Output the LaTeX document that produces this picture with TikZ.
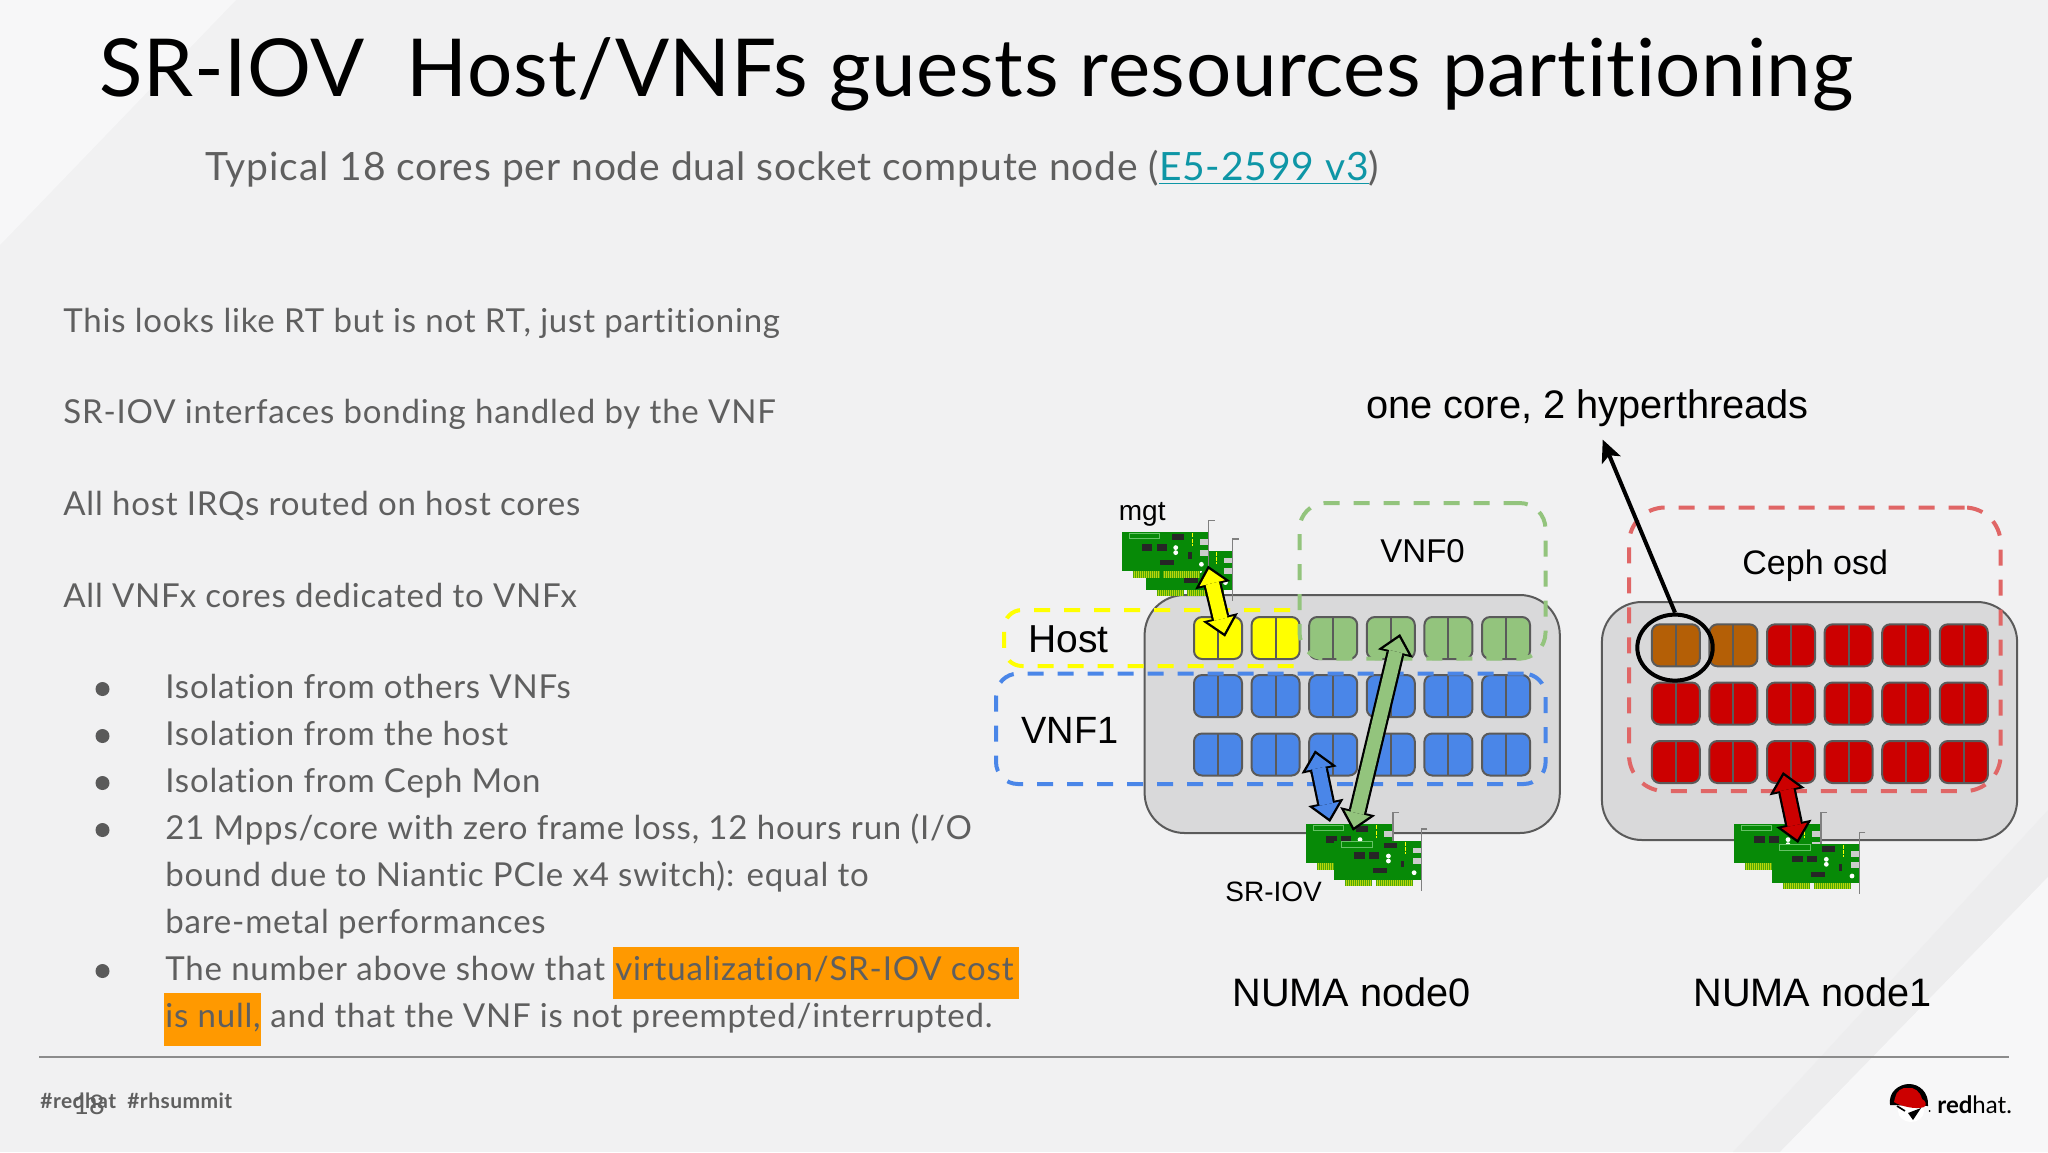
\documentclass[tikz,border=0pt]{standalone}
\usepackage{fontspec}
\setmainfont{Lato}
\newfontfamily\bodyfont[LetterSpace=2.4,Ligatures=NoCommon]{Lato}
\newfontfamily\subfont[LetterSpace=2.2,Ligatures=NoCommon]{Lato}
\newfontfamily\headfont[LetterSpace=.75,Ligatures=NoCommon]{Lato}
\newfontfamily\arialfont{Liberation Sans}
\usepackage{tikz}
\usetikzlibrary{arrows.meta,shapes.geometric,positioning}

\definecolor{slidebg}{HTML}{F1F1F2}
\definecolor{slidelight}{HTML}{F7F7F8}
\definecolor{slideband}{HTML}{EDEDEE}
\definecolor{bodygray}{HTML}{5F5F5F}
\definecolor{linkteal}{HTML}{0E96A6}
\definecolor{hlorange}{HTML}{FF9900}
\definecolor{boxgray}{HTML}{D9D9DA}
\definecolor{linegray}{HTML}{5A5A5A}
\definecolor{coreyellow}{HTML}{FFFF00}
\definecolor{coregreen}{HTML}{93C47D}
\definecolor{coreblue}{HTML}{4A86E8}
\definecolor{corered}{HTML}{CC0000}
\definecolor{corebrown}{HTML}{B45F06}
\definecolor{dashred}{HTML}{E06666}
\definecolor{cardgreen}{HTML}{078A07}
\definecolor{cardgold}{HTML}{B9D60A}

\tikzset{
	slidetext/.style={anchor=base west, inner sep=0pt, text=bodygray, font=\bodyfont\fontsize{16.5}{20}\selectfont},
	figtext/.style={anchor=base west, inner sep=0pt, text=black, font=\arialfont\fontsize{#1}{#1}\selectfont},
	chassis/.style={rectangle, rounded corners=20pt, draw=linegray, line width=1pt, fill=boxgray, minimum width=207.6pt, minimum height=119pt},
	core/.style={rectangle, rounded corners=4pt, draw=linegray, line width=1pt, minimum width=24pt, minimum height=21pt, inner sep=0pt,
		path picture={\draw[linegray, line width=1pt] (path picture bounding box.north) -- (path picture bounding box.south);}},
	groupbox/.style={draw=#1, line width=2pt, dash pattern=on 8pt off 7pt},
	niccard/.pic={
		\fill[cardgold] (11,39) rectangle (38,45.3);
		\fill[cardgold] (41.5,39) rectangle (78,45.3);
		\draw[cardgreen!60!cardgold, line width=3.1pt, dash pattern=on .3pt off .7pt] (11,42.2) -- (38,42.2);
		\draw[cardgreen!60!cardgold, line width=3.1pt, dash pattern=on .3pt off .7pt] (41.5,42.2) -- (78,42.2);
		\fill[cardgreen] (0,0) rectangle (87,39);
		\draw[green!60!black!60, line width=.3pt] (7.3,.5) rectangle (37.7,6.3);
		\fill[black!85] (50,2) rectangle (62.3,7.7);
		\fill[black!85] (20,11.7) rectangle (30.7,18.3);
		\fill[black!85] (35,11.7) rectangle (45,18.3);
		\fill[black!85] (38.3,27.7) rectangle (52.3,32.7);
		\fill[black!85] (66.7,20) rectangle (70,26.7);
		\fill[white] (54,15.3) circle (1.2pt);
		\fill[white] (54,20.3) circle (1.2pt);
		\fill[white] (79.7,32) circle (1.2pt);
		\fill[black!20] (78.3,7) rectangle (87,12.7);
		\fill[black!20] (78.3,17.7) rectangle (87,23.7);
		\draw[coreyellow, line width=.5pt, dash pattern=on 2pt off .6pt] (70.7,1) -- (70.7,13.3);
		\draw[black!50, line width=.6pt] (93,-11.7) -- (87,-11.7) -- (87,50);
	},
}

% block arrow between two named points, black outline then colour
\newcommand{\corelink}[3]{
	\draw[black, line width=9pt, {Triangle[length=10pt,width=18pt,line width=0pt]}-{Triangle[length=10pt,width=18pt,line width=0pt]}] (#1) -- (#2);
	\draw[#3, line width=6.8pt, shorten <=1.8pt, shorten >=1.8pt, {Triangle[length=7.2pt,width=13pt,line width=0pt]}-{Triangle[length=7.2pt,width=13pt,line width=0pt]}] (#1) -- (#2);
}

\begin{document}
\begin{tikzpicture}[x=0.5pt,y=-0.5pt]
	\useasboundingbox (0,0) rectangle (2048,1152);
	\fill[slidebg] (0,0) rectangle (2048,1152);
	\fill[slidelight] (0,0) -- (236,0) -- (0,245) -- cycle;
	\fill[slideband] (1733,1152) -- (2048,810) -- (2048,877) -- (1780,1152) -- cycle;
	\fill[slidelight] (1780,1152) -- (2048,877) -- (2048,1152) -- cycle;

	% heading
	\node[anchor=base west, inner sep=0pt, text=black, font=\headfont\fontsize{40}{48}\selectfont] (heading) at (99,96) {SR-IOV\ \ Host/VNFs guests resources partitioning};
	\node[slidetext, font=\subfont\fontsize{19.5}{24}\selectfont] (subheading) at (205,180) {Typical 18 cores per node dual socket compute node (\textcolor{linkteal}{\underline{E5-2599 v3}})};

	% highlights go under the text
	\fill[hlorange] (613,947) rectangle (1019,999);
	\fill[hlorange] (164,993) rectangle (261,1046);

	\node[slidetext] (line1) at (63,332) {This looks like RT but is not RT, just partitioning};
	\node[slidetext] (line2) at (63,423.5) {SR-IOV interfaces bonding handled by the VNF};
	\node[slidetext] (line3) at (63,515.2) {All host IRQs routed on host cores};
	\node[slidetext] (line4) at (63,607) {All VNFx cores dedicated to VNFx};

	\foreach \ypos/\txt in {698/{Isolation from others VNFs}, 745/{Isolation from the host}, 792/{Isolation from Ceph Mon}, 839/{21 Mpps/core with zero frame loss, 12 hours run (I/O}, 886/{bound due to Niantic PCIe x4 switch): equal to}, 933/{bare-metal performances}, 980/{The number above show that}}
		\node[slidetext] at (165,\ypos) {\txt};
	\node[slidetext] (hlone) at (615,980) {virtualization/SR-IOV cost};
	\node[slidetext] (hltwo) at (165,1027) {is null,};
	\node[slidetext] (tail) at (270,1027) {and that the VNF is not preempted/interrupted.};
	\foreach \ypos in {689,736,783,830,971}
		\fill[linegray] (102.5,\ypos) circle (3.5pt);

	% NUMA node0
	\node[chassis] (numa0) at (1352.2,714) {};
	\foreach \col/\colr in {0/coreyellow,1/coreyellow,2/coregreen,3/coregreen,4/coregreen,5/coregreen}
		\node[core, fill=\colr] (n0a\col) at ({1218+57.6*\col},638) {};
	\foreach \col in {0,...,5}{
		\node[core, fill=coreblue] (n0b\col) at ({1218+57.6*\col},696) {};
		\node[core, fill=coreblue] (n0c\col) at ({1218+57.6*\col},754.5) {};
	}

	% NUMA node1
	\node[chassis] (numa1) at (1809.5,721) {};
	\foreach \col/\colr in {0/corebrown,1/corebrown,2/corered,3/corered,4/corered,5/corered}
		\node[core, fill=\colr] (n1a\col) at ({1675.8+57.6*\col},645.3) {};
	\foreach \col in {0,...,5}{
		\node[core, fill=corered] (n1b\col) at ({1675.8+57.6*\col},703.5) {};
		\node[core, fill=corered] (n1c\col) at ({1675.8+57.6*\col},762) {};
	}

	% cards
	\pic at (1145.7,550.6) {niccard};
	\pic at (1121.7,532.3) {niccard};
	\pic at (1306,824.3) {niccard};
	\pic at (1334.4,840.7) {niccard};
	\pic at (1734,824.3) {niccard};
	\pic at (1772.3,844) {niccard};

	% groups
	\draw[groupbox=coreyellow, rounded corners=9pt] (1290,610) -- (1004,610) -- (1004,666) -- (1294,666);
	\node[groupbox=coregreen, rectangle, rounded corners=13pt, minimum width=123pt, minimum height=77.8pt] (vnf0group) at (1422.5,580.8) {};
	\node[groupbox=coreblue, rectangle, rounded corners=11pt, minimum width=274.8pt, minimum height=55.2pt] (vnf1group) at (1270.8,728.8) {};
	\node[groupbox=dashred, rectangle, rounded corners=18pt, minimum width=185.8pt, minimum height=141.8pt] (cephgroup) at (1814.8,649.3) {};

	\node[figtext=19.5] (hostlabel) at (1028,652) {Host};
	\node[figtext=19] (vnf1label) at (1021,743.5) {VNF1};
	\node[figtext=16.5] (vnf0label) at (1380,562) {VNF0};
	\node[figtext=17] (cephlabel) at (1742,574) {Ceph osd};
	\node[figtext=14] (mgtlabel) at (1118.5,520) {mgt};
	\node[figtext=14] (sriovlabel) at (1225,901) {SR-IOV};
	\node[figtext=19.85] (numa0label) at (1232,1006) {NUMA node0};
	\node[figtext=19.85] (numa1label) at (1693,1006) {NUMA node1};
	\node[figtext=19.9] (corelabel) at (1366,418.5) {one core, 2 hyperthreads};

	% arrows
	\coordinate (mgtport) at (1208,565.7);
	\coordinate (hostcore) at (1225,636.7);
	\coordinate (vnf1core) at (1315,750.4);
	\coordinate (vnf1port) at (1330,822);
	\coordinate (vnf0core) at (1400,634);
	\coordinate (vnf0port) at (1353,830.7);
	\coordinate (cephcore) at (1783,772);
	\coordinate (cephport) at (1798,843);
	\coordinate (coretip) at (1602.7,439.6);
	\corelink{mgtport}{hostcore}{coreyellow}
	\corelink{vnf1core}{vnf1port}{coreblue}
	\corelink{vnf0core}{vnf0port}{coregreen}
	\corelink{cephcore}{cephport}{corered}
	\node[ellipse, draw=black, line width=2pt, minimum width=37.7pt, minimum height=33pt, inner sep=0pt] (hyper) at (1675,647.6) {};
	\draw[black, line width=2pt, -{Stealth[length=11pt,width=10pt,inset=2.5pt]}] (hyper.north) -- (coretip);

	% footer
	\coordinate (ruleleft) at (39,1057);
	\coordinate (ruleright) at (2009,1057);
	\draw[black!45, line width=.7pt] (ruleleft) -- (ruleright);
	\node[slidetext, font=\subfont\bfseries\fontsize{10.5}{12}\selectfont] (tags) at (40,1108) {\#redhat\ \ \#rhsummit};
	\node[slidetext, font=\fontsize{13.5}{16}\selectfont] (pagenum) at (73,1114) {18};

	% logo
	\fill[white] (1911,1111) ellipse (6.5pt and 5.5pt);
	\fill[black] (1890,1105) .. controls (1888,1092) and (1899,1084) .. (1909,1084) .. controls (1919,1084) and (1929,1092) .. (1928,1106) -- (1890,1105) -- cycle;
	\fill[corered] (1895,1098) .. controls (1896,1091) and (1902,1087) .. (1908,1088) .. controls (1914,1087) and (1920,1091) .. (1922,1099) .. controls (1926,1101) and (1927,1105) .. (1924,1107) .. controls (1916,1110) and (1900,1106) .. (1894,1102) -- cycle;
	\draw[black, line width=.8pt] (1897,1106) -- (1905,1111);
	\fill[black] (1908,1113) -- (1921,1108) -- (1913,1120) -- cycle;
	\fill[black] (1929.5,1111) circle (.5pt);
	\node[anchor=base west, inner sep=0pt, text=black, font=\fontsize{12}{14}\selectfont] (logotext) at (1937,1113) {\textbf{red}hat.};
\end{tikzpicture}
\end{document}
